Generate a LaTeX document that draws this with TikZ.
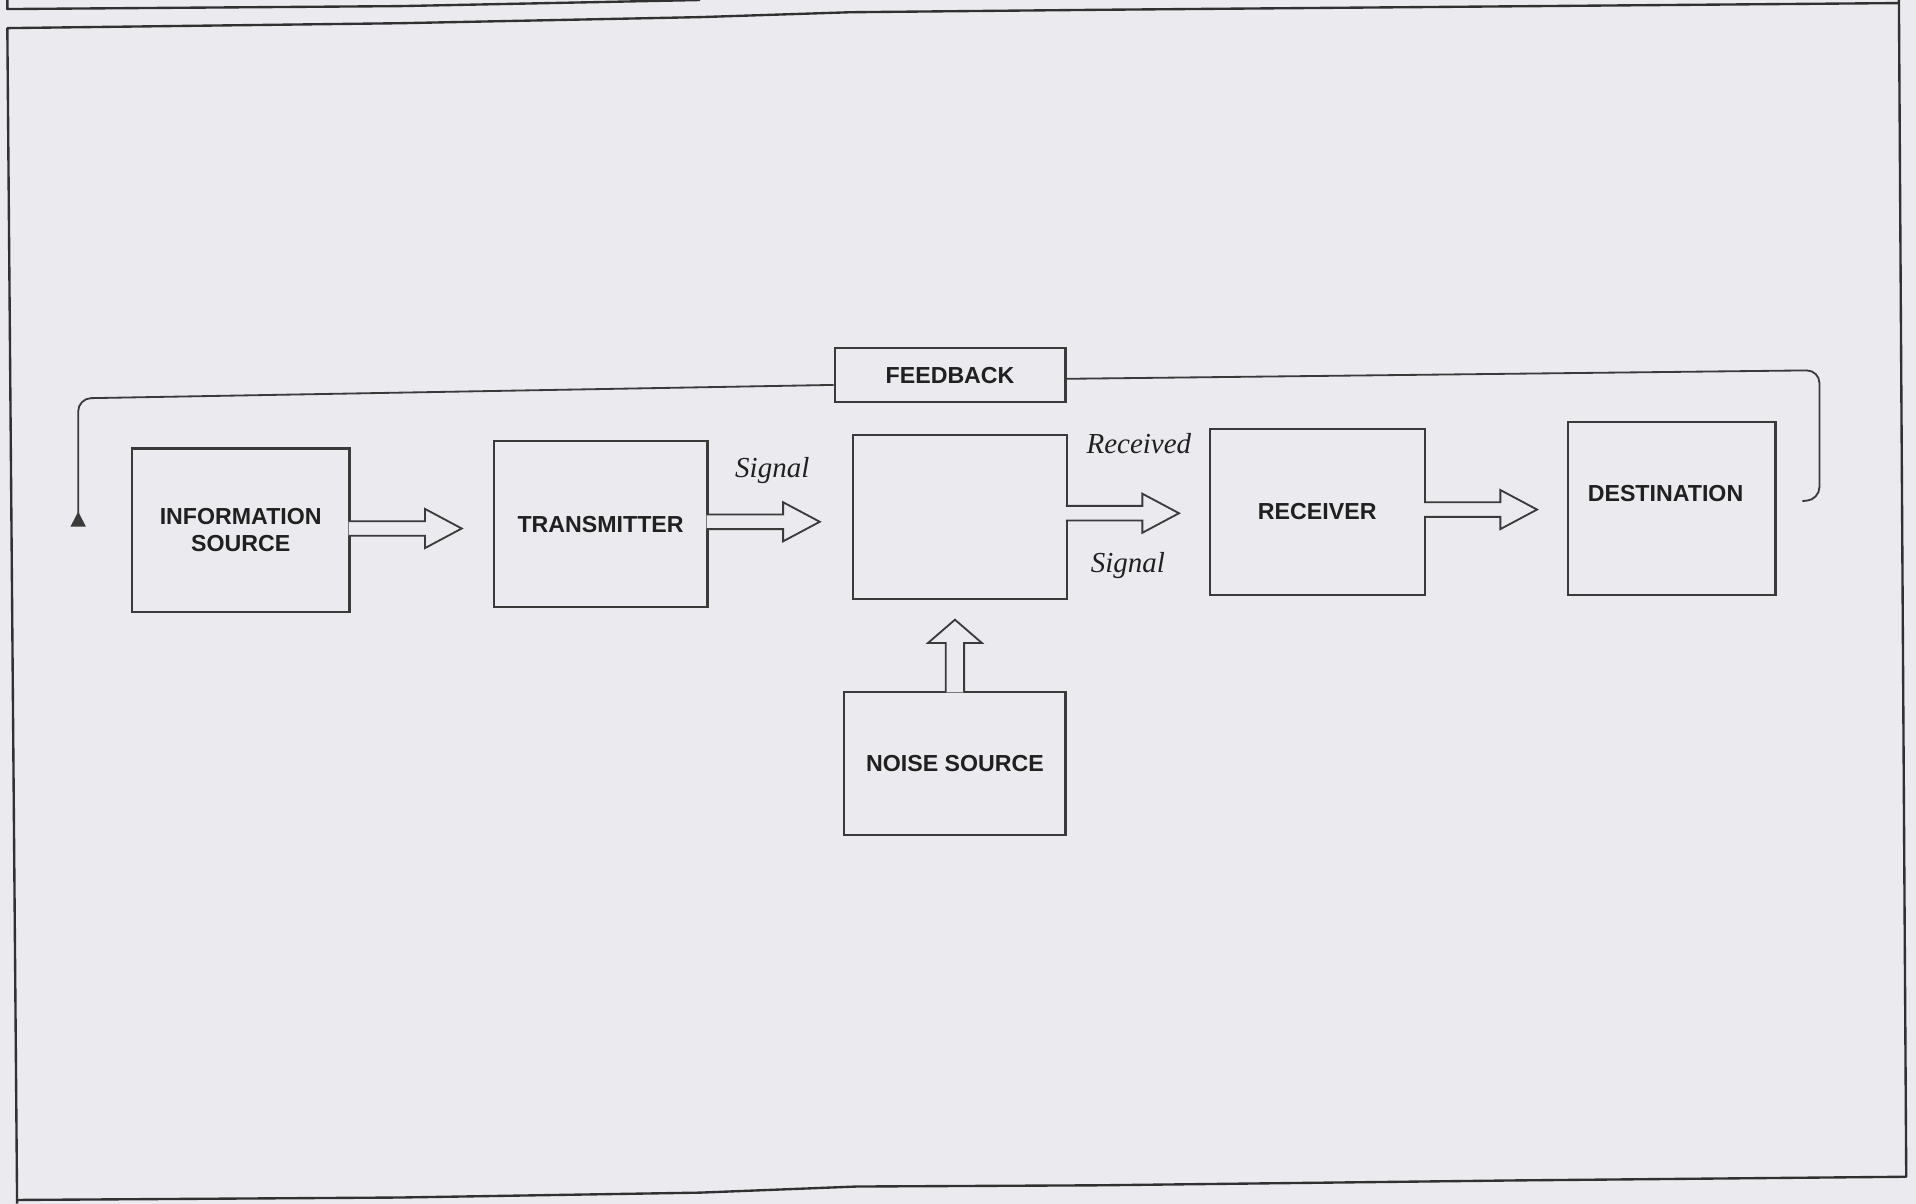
\documentclass[tikz,border=0pt]{standalone}
\usepackage{fontspec}
\setmainfont{Liberation Serif}
\setsansfont{Liberation Sans}
\usetikzlibrary{arrows.meta, calc}
\definecolor{Paper}{HTML}{EBEBEF}
\definecolor{Ink}{HTML}{3A3A3A}
\definecolor{TextInk}{HTML}{202020}
\tikzset{
  block/.style={draw=Ink, line width=1pt, inner sep=0pt, align=center, font=\sffamily\bfseries\fontsize{10.8}{12.5}\selectfont, text=TextInk},
  boxtext/.style={inner sep=0pt, font=\sffamily\bfseries\fontsize{10.8}{12.5}\selectfont, text=TextInk},
  sigtext/.style={inner sep=0pt, font=\itshape\fontsize{13.5}{15}\selectfont, text=TextInk},
  frameline/.style={draw=Ink!85!black, line width=1.1pt, line join=round},
  fbline/.style={draw=Ink, line width=0.85pt, rounded corners=6pt},
  hollow/.style={draw=Ink, line width=0.85pt, fill=Paper, line join=miter},
  harrow/.pic={\draw[hollow] (-1.5,6) -- (61,6) -- (61,16) -- (91,0) -- (61,-16) -- (61,-6) -- (-1.5,-6);},
  varrow/.pic={\draw[hollow] (-7.5,1.5) -- (-7.5,-39) -- (-22,-39) -- (0,-58) -- (22,-39) -- (7.5,-39) -- (7.5,1.5);}
}
\begin{document}
\begin{tikzpicture}[x=0.02cm, y=-0.02cm]
\fill[Paper] (0,0) rectangle (1568,985);
\useasboundingbox (0,0) rectangle (1568,985);

% page frame
\draw[frameline] (6,0) -- (6,7.4) -- (327,5) -- (573,0);
\draw[frameline] (14,985) -- (6,23) -- (327,19) -- (573,14) -- (696,10) -- (900,8) -- (1554,2.5);
\draw[frameline] (1554,0) -- (1560,963) -- (1241,966) -- (900,970) -- (701,971) -- (573,976) -- (327,980) -- (14,982);

% boxes
\node[block, minimum width=3.56cm, minimum height=2.68cm] (src) at (197,434) {INFORMATION\\SOURCE};
\node[block, minimum width=3.5cm, minimum height=2.72cm] (tx) at (491.5,429) {TRANSMITTER};
\node[block, minimum width=3.5cm, minimum height=2.68cm] (ch) at (785.5,423) {};
\node[block, minimum width=3.52cm, minimum height=2.72cm] (rx) at (1078,419) {RECEIVER};
\node[block, minimum width=3.4cm, minimum height=2.84cm] (dst) at (1368,416) {};
\node[boxtext] (dstname) at (1363,404) {DESTINATION};
\node[block, minimum width=3.62cm, minimum height=2.34cm] (noise) at (781.5,624.5) {NOISE SOURCE};
\node[block, minimum width=3.78cm, minimum height=0.88cm] (fb) at (777.5,307) {FEEDBACK};

% hollow arrows
\pic at ($(src.east)+(0,-1.5)$) {harrow};
\pic at ($(tx.east)+(0,-2)$) {harrow};
\pic at ($(ch.east)+(0,-3)$) {harrow};
\pic at ($(rx.east)+(0,-2)$) {harrow};
\pic at (noise.north) {varrow};

\node[sigtext] (sigout) at (632,385) {Signal};
\node[sigtext] (recv) at (932,363) {Received};
\node[sigtext] (sigin) at (923,463) {Signal};

% feedback loop
\coordinate (fbtail) at (1475,410);
\coordinate (fbhead) at (64,431);
\draw[fbline] (fbtail) -- (1489,409) -- (1489,303) -- ($(fb.east)+(0,3)$);
\draw[fbline, -{Triangle[reversed, length=7pt, width=7pt]}] ($(fb.west)+(0,8)$) -- (64,326) -- (fbhead);
\end{tikzpicture}
\end{document}
